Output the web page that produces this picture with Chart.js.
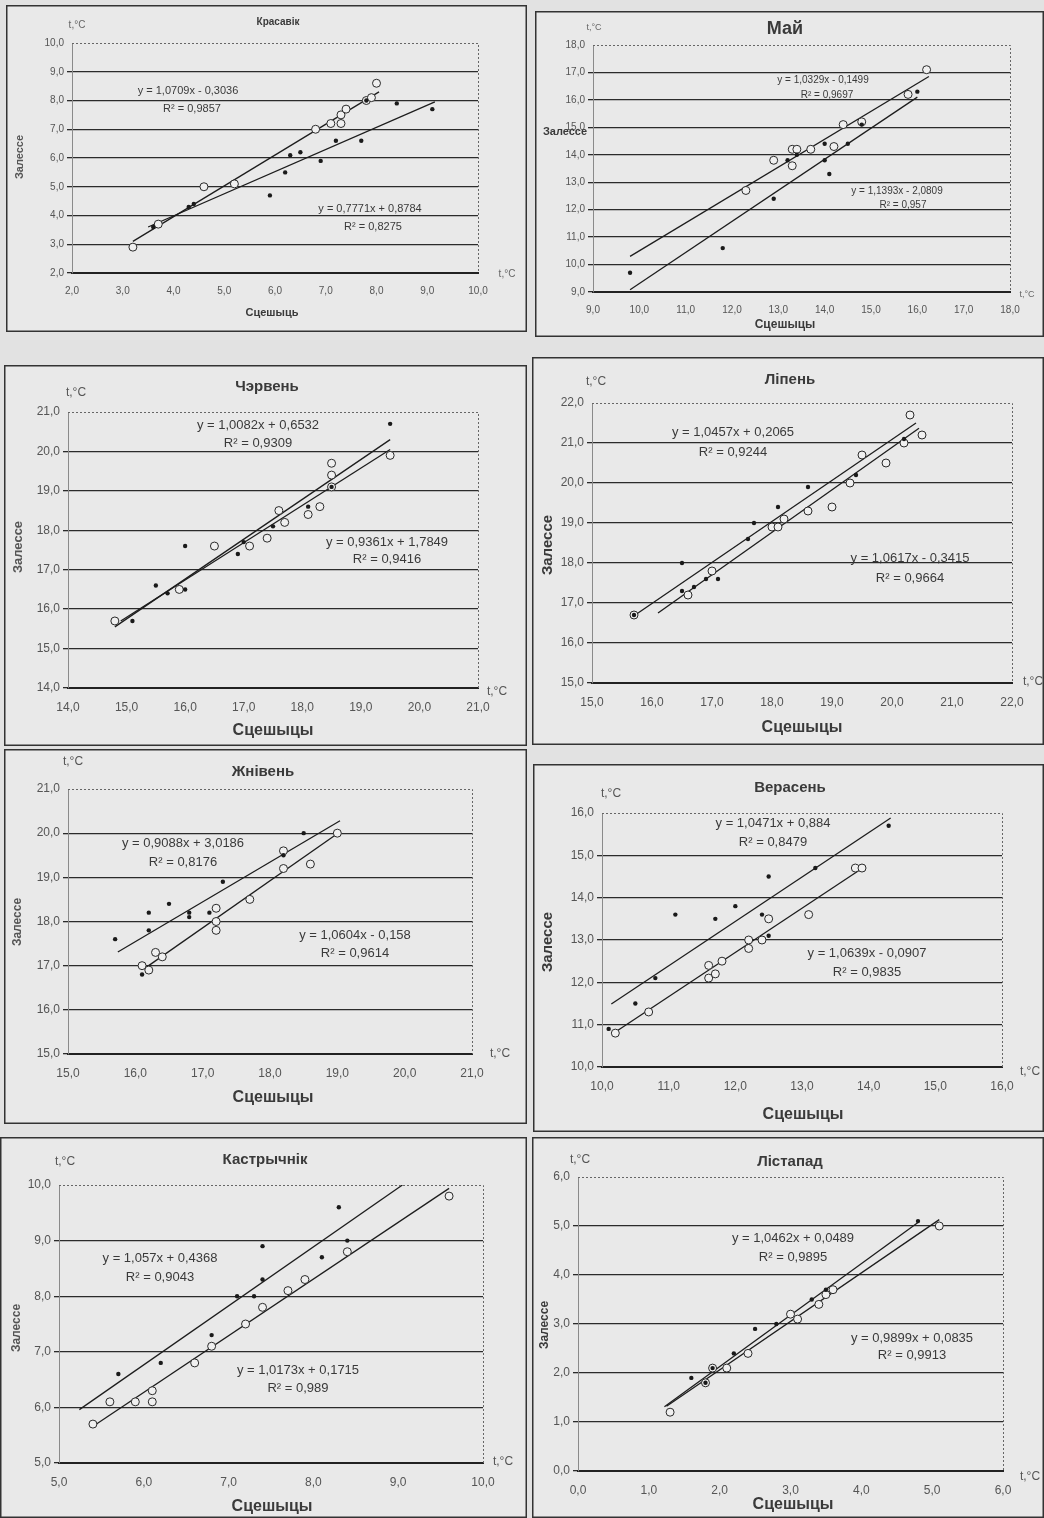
<!DOCTYPE html>
<html>
<head>
<meta charset="utf-8">
<script src="https://cdn.jsdelivr.net/npm/chart.js@4.4.1/dist/chart.umd.min.js"></script>
<style>
  body { margin: 0; width: 1044px; height: 1518px; background: #e2e2e2; position: relative; overflow: hidden; }
  canvas { position: absolute; }
</style>
</head>
<body>
<canvas id="c1"></canvas><canvas id="c2"></canvas>
<canvas id="c3"></canvas><canvas id="c4"></canvas>
<canvas id="c5"></canvas><canvas id="c6"></canvas>
<canvas id="c7"></canvas><canvas id="c8"></canvas>
<script>
// points: [Сцешыцы, Залессе]
// filled dots and open circles are the two series, each with its trend line (end points)

// Красавік
var aprDots = [[3.6,3.6],[4.3,4.3],[4.4,4.4],[5.9,4.7],[6.2,5.5],[6.3,6.1],[6.5,6.2],[6.9,5.9],[7.2,6.6],[7.7,6.6],[7.8,8.0],[8.4,7.9],[9.1,7.7]];
var aprCircles = [[3.2,2.9],[3.7,3.7],[4.6,5.0],[5.2,5.1],[6.8,7.0],[7.1,7.2],[7.3,7.2],[7.3,7.5],[7.4,7.7],[7.8,8.0],[7.9,8.1],[8.0,8.6]];
var aprLineDots = [[3.5,3.6],[9.15,7.95]];
var aprLineCircles = [[3.2,3.1],[8.05,8.3]];

// Май
var mayDots = [[9.8,9.7],[11.8,10.6],[12.9,12.4],[13.2,13.8],[13.4,14.0],[14.0,13.8],[14.0,14.4],[14.1,13.3],[14.5,14.4],[14.8,15.1],[16.0,16.3]];
var mayCircles = [[12.3,12.7],[12.9,13.8],[13.3,13.6],[13.3,14.2],[13.4,14.2],[13.7,14.2],[14.2,14.3],[14.4,15.1],[14.8,15.2],[15.8,16.2],[16.2,17.1]];
var mayLineDots = [[9.8,9.08],[16.0,16.1]];
var mayLineCircles = [[9.8,10.3],[16.25,16.85]];

// Чэрвень
var junDots = [[15.1,15.7],[15.5,16.6],[15.7,16.4],[16.0,16.5],[16.0,17.6],[16.9,17.4],[17.0,17.7],[17.5,18.1],[18.1,18.6],[18.5,19.1],[19.5,20.7]];
var junCircles = [[14.8,15.7],[15.9,16.5],[16.5,17.6],[17.1,17.6],[17.4,17.8],[17.6,18.5],[17.7,18.2],[18.1,18.4],[18.3,18.6],[18.5,19.1],[18.5,19.4],[18.5,19.7],[19.5,19.9]];
var junLineDots = [[14.8,15.55],[19.5,20.3]];
var junLineCircles = [[14.9,15.7],[19.5,20.05]];

// Ліпень
var julDots = [[15.7,16.7],[16.5,18.0],[16.5,17.3],[16.7,17.4],[16.9,17.6],[17.1,17.6],[17.6,18.6],[17.7,19.0],[18.1,19.4],[18.6,19.9],[19.4,20.2],[20.2,21.1]];
var julCircles = [[15.7,16.7],[16.6,17.2],[17.0,17.8],[18.0,18.9],[18.1,18.9],[18.2,19.1],[18.6,19.3],[19.0,19.4],[19.3,20.0],[19.5,20.7],[19.9,20.5],[20.2,21.0],[20.3,21.7],[20.5,21.2]];
var julLineDots = [[15.67,16.65],[20.4,21.5]];
var julLineCircles = [[16.1,16.75],[20.45,21.37]];

// Жнівень
var augDots = [[15.7,17.6],[16.1,16.8],[16.2,17.8],[16.2,18.2],[16.5,18.4],[16.8,18.1],[16.8,18.2],[17.1,18.2],[17.3,18.9],[18.2,19.5],[18.5,20.0]];
var augCircles = [[16.1,17.0],[16.2,16.9],[16.3,17.3],[16.4,17.2],[17.2,17.8],[17.2,18.0],[17.2,18.3],[17.7,18.5],[18.2,19.2],[18.2,19.6],[18.6,19.3],[19.0,20.0]];
var augLineDots = [[15.74,17.31],[19.04,20.28]];
var augLineCircles = [[16.15,16.95],[19.02,20.01]];

// Верасень
var sepDots = [[10.1,10.9],[10.5,11.5],[10.8,12.1],[11.1,13.6],[11.7,13.5],[12.0,13.8],[12.4,13.6],[12.5,13.1],[12.5,14.5],[13.2,14.7],[14.3,15.7]];
var sepCircles = [[10.2,10.8],[10.7,11.3],[11.6,12.1],[11.6,12.4],[11.7,12.2],[11.8,12.5],[12.2,12.8],[12.2,13.0],[12.4,13.0],[12.5,13.5],[13.1,13.6],[13.8,14.7],[13.9,14.7]];
var sepLineDots = [[10.14,11.49],[14.33,15.88]];
var sepLineCircles = [[10.24,10.87],[13.91,14.7]];

// Кастрычнік
var octDots = [[5.7,6.6],[6.2,6.8],[6.8,7.3],[7.1,8.0],[7.3,8.0],[7.4,8.3],[7.4,8.9],[8.1,8.7],[8.3,9.6],[8.4,9.0]];
var octCircles = [[5.4,5.7],[5.6,6.1],[5.9,6.1],[6.1,6.1],[6.1,6.3],[6.6,6.8],[6.8,7.1],[7.2,7.5],[7.4,7.8],[7.7,8.1],[7.9,8.3],[8.4,8.8],[9.6,9.8]];
var octLineDots = [[5.24,5.96],[9.05,10.0]];
var octLineCircles = [[5.42,5.68],[9.6,9.94]];

// Лістапад
var novDots = [[1.6,1.9],[1.8,1.8],[1.9,2.1],[2.2,2.4],[2.5,2.9],[2.8,3.0],[3.3,3.5],[3.5,3.7],[4.8,5.1]];
var novCircles = [[1.3,1.2],[1.8,1.8],[1.9,2.1],[2.1,2.1],[2.4,2.4],[3.0,3.2],[3.1,3.1],[3.4,3.4],[3.5,3.6],[3.6,3.7],[5.1,5.0]];
var novLineDots = [[1.22,1.31],[4.8,5.07]];
var novLineCircles = [[1.25,1.32],[5.1,5.13]];

// axis ranges [min, max] for x and y
var aprRange = [2, 10], mayRange = [9, 18], junRange = [14, 21], julRange = [15, 22];
var augRange = [15, 21], sepRange = [10, 16], octRange = [5, 10], novRange = [0, 6];

var FONT = '"Liberation Sans", Arial, sans-serif';
Chart.defaults.font.family = FONT;

function xy(arr) {
  return arr.map(function (p) { return { x: p[0], y: p[1] }; });
}
function comma(v) { return v.toFixed(1).replace('.', ','); }

// draws panel frame, dotted plot border and all free text
var decor = {
  id: 'decor',
  beforeDraw: function (chart, args, o) {
    var c = chart.ctx;
    c.save();
    c.fillStyle = '#e9e9e9';
    c.fillRect(0, 0, chart.width, chart.height);
    c.strokeStyle = '#333';
    c.lineWidth = 1.5;
    c.strokeRect(0.75, 0.75, chart.width - 1.5, chart.height - 1.5);
    c.restore();
  },
  afterDraw: function (chart, args, o) {
    var c = chart.ctx, a = chart.chartArea;
    c.save();
    c.setLineDash([2, 2]);
    c.strokeStyle = '#666';
    c.lineWidth = 1;
    c.beginPath();
    c.moveTo(a.left, a.top + 0.5);
    c.lineTo(a.right + 0.5, a.top + 0.5);
    c.lineTo(a.right + 0.5, a.bottom);
    c.stroke();
    c.setLineDash([]);
    c.textAlign = 'center';
    c.textBaseline = 'middle';
    o.texts.forEach(function (t) {
      c.save();
      c.fillStyle = t.col || '#3a3a3a';
      c.font = (t.b ? 'bold ' : '') + t.s + 'px ' + FONT;
      c.translate(t.x - o.fx, t.y - o.fy);
      if (t.r) c.rotate(-Math.PI / 2);
      c.fillText(t.t, 0, 0);
      c.restore();
    });
    c.restore();
  }
};

function makeChart(id, frame, area, range, dots, circles, lineDots, lineCircles, tickSize, texts) {
  var el = document.getElementById(id);
  el.width = frame.w; el.height = frame.h;
  el.style.left = frame.x + 'px'; el.style.top = frame.y + 'px';
  var YW = 45, XH = 32;
  var lineStyle = { showLine: true, pointRadius: 0, borderColor: '#1d1d1d', borderWidth: 1.3, fill: false };
  new Chart(el, {
    type: 'scatter',
    data: {
      datasets: [
        { data: xy(dots), pointRadius: 2.2, pointBackgroundColor: '#1a1a1a', pointBorderWidth: 0 },
        { data: xy(circles), pointRadius: 4, pointBackgroundColor: '#f0f0f0', pointBorderColor: '#2a2a2a', pointBorderWidth: 1 },
        Object.assign({ data: xy(lineDots) }, lineStyle),
        Object.assign({ data: xy(lineCircles) }, lineStyle)
      ]
    },
    plugins: [decor],
    options: {
      responsive: false,
      animation: false,
      events: [],
      layout: {
        padding: {
          left: area.l - frame.x - YW,
          top: area.t - frame.y,
          right: frame.x + frame.w - area.r,
          bottom: frame.y + frame.h - area.b - XH
        }
      },
      plugins: {
        legend: { display: false },
        tooltip: { enabled: false },
        decor: { fx: frame.x, fy: frame.y, texts: texts }
      },
      scales: {
        x: {
          type: 'linear', min: range[0], max: range[1],
          afterFit: function (s) { s.height = XH; },
          grid: { drawOnChartArea: false, color: 'rgba(0,0,0,0)', tickLength: 8 },
          border: { display: true, color: '#222', width: 2 },
          ticks: { stepSize: 1, maxRotation: 0, autoSkip: false, padding: 4, color: '#555', font: { size: tickSize }, callback: comma }
        },
        y: {
          type: 'linear', min: range[0], max: range[1],
          afterFit: function (s) { s.width = YW; },
          grid: {
            color: function (ctx) { return ctx.tick && ctx.tick.value === range[1] ? 'rgba(0,0,0,0)' : '#2b2b2b'; },
            lineWidth: 1.3, tickLength: 5
          },
          border: { display: true, color: '#8a8a8a', width: 1 },
          ticks: { stepSize: 1, autoSkip: false, padding: 3, color: '#555', font: { size: tickSize }, callback: comma }
        }
      }
    }
  });
}

makeChart('c1', { x: 6, y: 5, w: 521, h: 327 }, { l: 72, t: 43, r: 478, b: 273 }, aprRange,
  aprDots, aprCircles, aprLineDots, aprLineCircles, 10, [
  { t: 'Красавік', x: 278, y: 22, s: 10, b: true },
  { t: 't,°C', x: 77, y: 25, s: 10, col: '#666' },
  { t: 't,°C', x: 507, y: 274, s: 10, col: '#666' },
  { t: 'Залессе', x: 20, y: 157, s: 11, b: true, r: true, col: '#555' },
  { t: 'Сцешыць', x: 272, y: 313, s: 11, b: true },
  { t: 'y = 1,0709x - 0,3036', x: 188, y: 91, s: 11 },
  { t: 'R² = 0,9857', x: 192, y: 109, s: 11 },
  { t: 'y = 0,7771x + 0,8784', x: 370, y: 209, s: 11 },
  { t: 'R² = 0,8275', x: 373, y: 227, s: 11 }
]);

makeChart('c2', { x: 535, y: 11, w: 509, h: 326 }, { l: 593, t: 45, r: 1010, b: 292 }, mayRange,
  mayDots, mayCircles, mayLineDots, mayLineCircles, 10, [
  { t: 'Май', x: 785, y: 29, s: 18, b: true },
  { t: 't,°C', x: 594, y: 28, s: 9, col: '#666' },
  { t: 't,°C', x: 1027, y: 295, s: 9, col: '#666' },
  { t: 'Залессе', x: 565, y: 132, s: 11, b: true },
  { t: 'Сцешыцы', x: 785, y: 325, s: 12, b: true },
  { t: 'y = 1,0329x - 0,1499', x: 823, y: 80, s: 10 },
  { t: 'R² = 0,9697', x: 827, y: 95, s: 10 },
  { t: 'y = 1,1393x - 2,0809', x: 897, y: 191, s: 10 },
  { t: 'R² = 0,957', x: 903, y: 205, s: 10 }
]);

makeChart('c3', { x: 4, y: 365, w: 523, h: 381 }, { l: 68, t: 412, r: 478, b: 688 }, junRange,
  junDots, junCircles, junLineDots, junLineCircles, 12, [
  { t: 'Чэрвень', x: 267, y: 387, s: 15, b: true },
  { t: 't,°C', x: 76, y: 393, s: 12, col: '#555' },
  { t: 't,°C', x: 497, y: 692, s: 12, col: '#555' },
  { t: 'Залессе', x: 18, y: 547, s: 13, b: true, r: true, col: '#555' },
  { t: 'Сцешыцы', x: 273, y: 731, s: 16, b: true },
  { t: 'y = 1,0082x + 0,6532', x: 258, y: 425, s: 13 },
  { t: 'R² = 0,9309', x: 258, y: 443, s: 13 },
  { t: 'y = 0,9361x + 1,7849', x: 387, y: 542, s: 13 },
  { t: 'R² = 0,9416', x: 387, y: 559, s: 13 }
]);

makeChart('c4', { x: 532, y: 357, w: 512, h: 388 }, { l: 592, t: 403, r: 1012, b: 683 }, julRange,
  julDots, julCircles, julLineDots, julLineCircles, 12, [
  { t: 'Ліпень', x: 790, y: 380, s: 15, b: true },
  { t: 't,°C', x: 596, y: 382, s: 12, col: '#555' },
  { t: 't,°C', x: 1033, y: 682, s: 12, col: '#555' },
  { t: 'Залессе', x: 548, y: 545, s: 15, b: true, r: true },
  { t: 'Сцешыцы', x: 802, y: 728, s: 16, b: true },
  { t: 'y = 1,0457x + 0,2065', x: 733, y: 432, s: 13 },
  { t: 'R² = 0,9244', x: 733, y: 452, s: 13 },
  { t: 'y = 1,0617x - 0,3415', x: 910, y: 558, s: 13 },
  { t: 'R² = 0,9664', x: 910, y: 578, s: 13 }
]);

makeChart('c5', { x: 4, y: 749, w: 523, h: 375 }, { l: 68, t: 789, r: 472, b: 1054 }, augRange,
  augDots, augCircles, augLineDots, augLineCircles, 12, [
  { t: 'Жнівень', x: 263, y: 772, s: 15, b: true },
  { t: 't,°C', x: 73, y: 762, s: 12, col: '#555' },
  { t: 't,°C', x: 500, y: 1054, s: 12, col: '#555' },
  { t: 'Залессе', x: 18, y: 922, s: 12, b: true, r: true, col: '#555' },
  { t: 'Сцешыцы', x: 273, y: 1098, s: 16, b: true },
  { t: 'y = 0,9088x + 3,0186', x: 183, y: 843, s: 13 },
  { t: 'R² = 0,8176', x: 183, y: 862, s: 13 },
  { t: 'y = 1,0604x - 0,158', x: 355, y: 935, s: 13 },
  { t: 'R² = 0,9614', x: 355, y: 953, s: 13 }
]);

makeChart('c6', { x: 533, y: 764, w: 511, h: 368 }, { l: 602, t: 813, r: 1002, b: 1067 }, sepRange,
  sepDots, sepCircles, sepLineDots, sepLineCircles, 12, [
  { t: 'Верасень', x: 790, y: 788, s: 15, b: true },
  { t: 't,°C', x: 611, y: 794, s: 12, col: '#555' },
  { t: 't,°C', x: 1030, y: 1072, s: 12, col: '#555' },
  { t: 'Залессе', x: 548, y: 942, s: 15, b: true, r: true },
  { t: 'Сцешыцы', x: 803, y: 1115, s: 16, b: true },
  { t: 'y = 1,0471x + 0,884', x: 773, y: 823, s: 13 },
  { t: 'R² = 0,8479', x: 773, y: 842, s: 13 },
  { t: 'y = 1,0639x - 0,0907', x: 867, y: 953, s: 13 },
  { t: 'R² = 0,9835', x: 867, y: 972, s: 13 }
]);

makeChart('c7', { x: 0, y: 1137, w: 527, h: 381 }, { l: 59, t: 1185, r: 483, b: 1463 }, octRange,
  octDots, octCircles, octLineDots, octLineCircles, 12, [
  { t: 'Кастрычнік', x: 265, y: 1160, s: 15, b: true },
  { t: 't,°C', x: 65, y: 1162, s: 12, col: '#555' },
  { t: 't,°C', x: 503, y: 1462, s: 12, col: '#555' },
  { t: 'Залессе', x: 17, y: 1328, s: 12, b: true, r: true, col: '#555' },
  { t: 'Сцешыцы', x: 272, y: 1507, s: 16, b: true },
  { t: 'y = 1,057x + 0,4368', x: 160, y: 1258, s: 13 },
  { t: 'R² = 0,9043', x: 160, y: 1277, s: 13 },
  { t: 'y = 1,0173x + 0,1715', x: 298, y: 1370, s: 13 },
  { t: 'R² = 0,989', x: 298, y: 1388, s: 13 }
]);

makeChart('c8', { x: 532, y: 1137, w: 512, h: 381 }, { l: 578, t: 1177, r: 1003, b: 1471 }, novRange,
  novDots, novCircles, novLineDots, novLineCircles, 12, [
  { t: 'Лістапад', x: 790, y: 1162, s: 15, b: true },
  { t: 't,°C', x: 580, y: 1160, s: 12, col: '#555' },
  { t: 't,°C', x: 1030, y: 1477, s: 12, col: '#555' },
  { t: 'Залессе', x: 545, y: 1325, s: 12, b: true, r: true },
  { t: 'Сцешыцы', x: 793, y: 1505, s: 16, b: true },
  { t: 'y = 1,0462x + 0,0489', x: 793, y: 1238, s: 13 },
  { t: 'R² = 0,9895', x: 793, y: 1257, s: 13 },
  { t: 'y = 0,9899x + 0,0835', x: 912, y: 1338, s: 13 },
  { t: 'R² = 0,9913', x: 912, y: 1355, s: 13 }
]);
</script>
</body>
</html>
